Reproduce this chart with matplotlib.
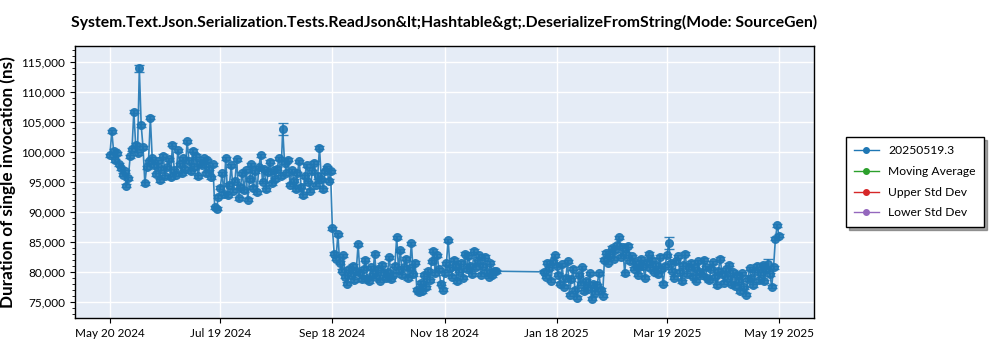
import matplotlib
matplotlib.use("Agg")
import matplotlib.pyplot as plt
import matplotlib.ticker as mticker
from matplotlib.lines import Line2D
import numpy as np
import pandas as pd

plt.rcParams['font.family'] = ['Lato', 'DejaVu Sans']

title = "System.Text.Json.Serialization.Tests.ReadJson&lt;Hashtable&gt;.DeserializeFromString(Mode: SourceGen)"
ylabel = "Duration of single invocation (ns)"
series_names = ["20250519.3", "Moving Average", "Upper Std Dev", "Lower Std Dev"]
series_colors = ["#1f77b4", "#2ca02c", "#d62728", "#9467bd"]

# Segment A: daily results from 2024-05-20 (values in thousands of ns)
start_a = "2024-05-20"
vals_a = [
    99.5, 103.5, 100.2, 98.6, 99.8, 98.0, 97.3, 96.2, 96.8, 94.4, 95.6,
    99.3, 100.5, 106.7, 101.2, 99.8, 114.0, 104.5, 100.8, 94.8, 97.5,
    98.5, 105.7, 99.0, 97.8, 96.3, 98.5, 95.3, 97.2, 99.4, 96.0,
    97.5, 98.8, 95.8, 101.2, 97.0, 96.2, 100.3, 98.0, 96.5, 99.0,
    97.2, 101.8, 98.5, 96.8, 100.2, 97.5, 99.4, 96.0, 98.2, 97.8,
    99.0, 96.5, 98.6, 97.2, 95.8, 98.0, 90.8, 90.5, 92.5, 94.0,
    96.5, 93.0, 99.0, 92.8, 94.5, 97.8, 93.5, 95.2, 98.8, 92.3,
    94.2, 96.5, 93.6, 97.0, 92.0, 95.5, 98.0, 94.0, 96.8, 93.3,
    97.5, 99.5, 95.0, 97.2, 93.8, 96.6, 98.4, 94.8, 97.0, 95.5,
    97.2, 99.0, 96.0, 103.8, 98.2, 96.5, 98.7, 94.5, 97.0, 95.2,
    93.8, 96.5, 98.5, 94.2, 92.8, 96.0, 97.8, 95.0, 93.5, 96.8,
    98.2, 94.5, 96.0, 100.7, 95.5, 93.8, 96.8, 97.5, 95.2, 96.8,
]
# Segment B: daily results from 2024-09-18
start_b = "2024-09-18"
vals_b = [
    87.3, 83.0, 82.2, 86.3, 81.5, 80.2, 82.8, 79.2, 78.0, 80.5,
    79.5, 81.0, 78.6, 80.2, 84.6, 79.8, 78.8, 80.5, 82.0, 79.0,
    78.4, 80.8, 79.6, 83.0, 79.2, 80.5, 78.5, 81.2, 79.8, 78.9,
    80.0, 82.4, 78.8, 79.5, 81.0, 85.8, 80.3, 83.6, 79.4, 80.8,
    82.2, 78.9, 80.6, 84.8, 79.6, 81.5, 77.0, 76.6, 78.2, 76.8,
    79.5, 77.4, 80.2, 78.6, 81.8, 83.5, 79.8, 82.8, 80.4, 78.0,
    77.0, 79.8, 81.4, 85.3, 80.6, 79.2, 82.0, 81.0, 78.4, 80.2,
    81.5, 79.0, 83.0, 80.4, 82.6, 81.0, 79.6, 83.5, 80.8, 81.8,
    82.8, 79.5, 81.0, 82.5, 80.0, 79.2, 81.5, 79.4, 80.2, 80.1,
]
# Segment C: daily results from 2025-01-11
start_c = "2025-01-11"
vals_c = [
    80.0, 79.2, 81.5, 80.6, 78.5, 81.8, 82.8, 81.0, 79.5, 78.0,
    81.3, 77.5, 79.0, 81.8, 76.2, 78.8, 80.5, 77.0, 75.7, 79.5,
    78.0, 80.8, 76.8, 78.5, 77.2, 79.8, 75.5, 78.0, 76.5, 77.8,
    79.8, 77.0, 76.0, 82.0, 83.2, 81.5, 82.8, 84.0, 82.2, 83.6,
    84.5, 85.8, 82.5, 84.2, 79.8, 83.0, 84.4, 81.8, 82.6, 80.5,
    81.5, 79.5, 80.8, 82.2, 81.0, 79.0, 81.6, 83.0, 80.6, 82.0,
    80.0, 81.2, 79.6, 82.5, 80.4, 78.0, 81.0, 82.8, 84.8, 81.5,
    80.2, 79.0, 81.8, 82.6, 80.0, 78.4, 81.2, 83.0, 79.6, 80.8,
    81.5, 79.2, 80.6, 78.5, 81.8, 80.0, 79.4, 82.0, 80.8, 79.0,
    78.6, 80.5, 81.6, 79.2, 77.8, 80.2, 82.2, 79.6, 78.2, 80.4,
    79.0, 81.2, 78.0, 80.0, 77.6, 79.4, 78.5, 76.8, 79.8, 77.4,
    76.2, 78.8, 80.6, 79.0, 77.8, 80.2, 81.0, 78.6, 79.8, 81.2,
    78.4, 80.4, 81.3, 79.6, 77.5, 80.8, 85.5, 87.8, 86.0,
]
# Larger error bars (thousands of ns) on a few results
big_err_dates = ["2024-06-05", "2024-08-22", "2024-09-10", "2025-03-20", "2025-05-13"]
big_err_vals = [0.6, 1.0, 0.5, 1.0, 0.9]
default_err = 0.25

xticks = ["2024-05-20", "2024-07-19", "2024-09-18", "2024-11-18", "2025-01-18", "2025-03-19", "2025-05-19"]
xticklabels = ["May 20 2024", "Jul 19 2024", "Sep 18 2024", "Nov 18 2024", "Jan 18 2025", "Mar 19 2025", "May 19 2025"]

dates = list(pd.date_range(start_a, periods=len(vals_a), freq="D")) + \
        list(pd.date_range(start_b, periods=len(vals_b), freq="D")) + \
        list(pd.date_range(start_c, periods=len(vals_c), freq="D"))
values = np.array(vals_a + vals_b + vals_c) * 1000
errs = np.full(len(values), default_err * 1000)
dstr = [d.strftime("%Y-%m-%d") for d in dates]
for d, e in zip(big_err_dates, big_err_vals):
    if d in dstr:
        errs[dstr.index(d)] = e * 1000

fig = plt.figure(figsize=(10, 3.5), dpi=100)
ax = fig.add_axes([0.075, 0.0914, 0.739, 0.7772])
ax.set_facecolor("#e5ecf6")

ax.errorbar(dates, values, yerr=errs, color=series_colors[0], marker="o", markersize=5.5,
            linewidth=1.2, elinewidth=1.2, capsize=3.5, alpha=0.9, zorder=3)

handles = [Line2D([], [], color=c, marker="o", markersize=4, linewidth=1.0) for c in series_colors]

ax.set_xlim(pd.Timestamp("2024-05-01"), pd.Timestamp("2025-06-07"))
ax.set_ylim(72300, 117700)
ax.set_xticks([pd.Timestamp(t) for t in xticks])
ax.set_xticklabels(xticklabels, fontsize=8.5)
ax.yaxis.set_major_locator(mticker.MultipleLocator(5000))
ax.yaxis.set_minor_locator(mticker.MultipleLocator(1000))
ax.yaxis.set_major_formatter(mticker.FuncFormatter(lambda v, p: f"{int(v):,}"))
ax.tick_params(axis="y", labelsize=8.5)
ax.grid(True, which="major", color="white", linewidth=1.0)
ax.set_axisbelow(True)
for s in ax.spines.values():
    s.set_color("black")
    s.set_linewidth(1.0)

ax.set_ylabel(ylabel, fontsize=12.3, fontweight="bold")
ax.yaxis.set_label_coords(-0.08, 0.5)
ax.set_title(title, fontsize=11.3, fontweight="bold", pad=14)

leg = ax.legend(handles, series_names, loc="center left", bbox_to_anchor=(1.035, 0.5), fontsize=8.7,
                frameon=True, fancybox=False, shadow=True, edgecolor="black", borderpad=0.7,
                labelspacing=0.8, handlelength=2.0)
leg.get_frame().set_linewidth(1.0)

fig.savefig("out.png", dpi=100)
